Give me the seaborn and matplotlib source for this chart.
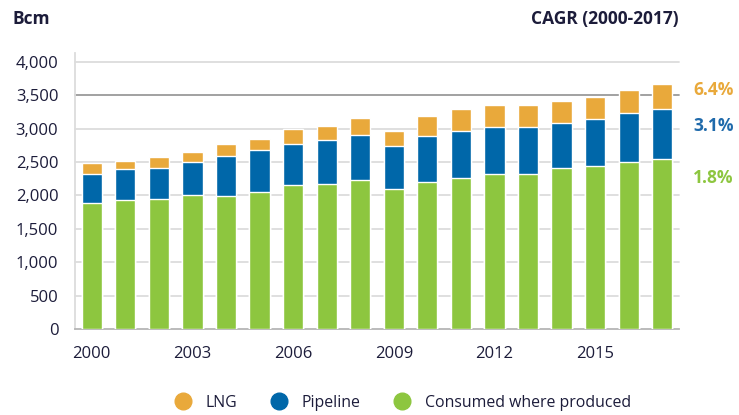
import matplotlib
matplotlib.use("Agg")
import matplotlib.pyplot as plt
from matplotlib.lines import Line2D
import numpy as np
import pandas as pd
import seaborn as sns

# ---------- data (Bcm) ----------
years = [str(y) for y in range(2000, 2018)]
consumed = [1880, 1935, 1945, 2000, 1995, 2055, 2150, 2175, 2230,
            2090, 2205, 2265, 2320, 2320, 2415, 2445, 2495, 2550]
pipeline = [440, 455, 465, 495, 590, 625, 615, 650, 675,
            655, 685, 705, 705, 710, 665, 700, 740, 745]
lng = [160, 130, 160, 160, 180, 160, 235, 215, 245,
       225, 295, 325, 325, 315, 335, 320, 345, 375]
cagr_labels = ["6.4%", "3.1%", "1.8%"]
series_names = ["LNG", "Pipeline", "Consumed where produced"]

C_LNG = "#E9A93B"
C_PIPE = "#0067A9"
C_GREEN = "#8DC63F"
TXT = "#1c1c3a"

df = pd.DataFrame({"year": years, "consumed": consumed,
                   "pipeline": pipeline, "lng": lng})
df["pipe_top"] = df["consumed"] + df["pipeline"]
df["lng_top"] = df["pipe_top"] + df["lng"]

sns.set_style("white")
plt.rcParams["font.family"] = ["Open Sans", "DejaVu Sans"]

fig = plt.figure(figsize=(7.39, 4.15), dpi=100)
ax = fig.add_axes([75 / 739, 1 - 329 / 415, (679 - 75) / 739, (329 - 53) / 415])

# stacked bars drawn as layered cumulative totals
for col, color in [("lng_top", C_LNG), ("pipe_top", C_PIPE), ("consumed", C_GREEN)]:
    sns.barplot(data=df, x="year", y=col, order=years, color=color,
                width=0.6, saturation=1, ax=ax, zorder=3)

ax.set_xlim(-0.5, len(years) - 0.5)
ax.set_ylim(0, 4130)
ax.set_xlabel("")
ax.set_ylabel("")

# grid
yt = np.arange(0, 4001, 500)
ax.set_yticks(yt)
ax.set_yticklabels([f"{v:,}" for v in yt])
for v in yt[1:]:
    ax.axhline(v, color="#9a9a9a" if v == 3500 else "#dcdcdc",
               lw=1.3, zorder=1, clip_on=False)

for s in ["top", "right"]:
    ax.spines[s].set_visible(False)
ax.spines["left"].set_color("#dcdcdc")
ax.spines["left"].set_linewidth(1.3)
ax.spines["bottom"].set_color("#b5b5b5")
ax.spines["bottom"].set_linewidth(1.3)

ax.tick_params(axis="y", length=4, color="#dcdcdc", width=1.3, pad=8,
               labelsize=12, labelcolor=TXT)
major = list(range(0, len(years), 3))
ax.set_xticks(major)
ax.set_xticklabels([years[i] for i in major])
ax.set_xticks(np.arange(-0.5, len(years), 1), minor=True)
ax.tick_params(axis="x", which="major", length=0, pad=12,
               labelsize=12, labelcolor=TXT)
ax.tick_params(axis="x", which="minor", length=5, color="#b5b5b5", width=1.3)

# titles / annotations
fig.text(12 / 739, 1 - 19 / 415, "Bcm", fontsize=12.5, fontweight="bold",
         color=TXT, va="center", ha="left")
fig.text(679 / 739, 1 - 19 / 415, "CAGR (2000-2017)", fontsize=12.5,
         fontweight="bold", color=TXT, va="center", ha="right")
for lab, yy, c in zip(cagr_labels, [90, 126, 178], [C_LNG, "#1f6aab", C_GREEN]):
    fig.text(693 / 739, 1 - yy / 415, lab, fontsize=12.5, fontweight="bold",
             color=c, va="center", ha="left")

# legend
handles = [Line2D([], [], marker="o", linestyle="", markersize=12,
                  markerfacecolor=c, markeredgecolor=c)
           for c in [C_LNG, C_PIPE, C_GREEN]]
fig.legend(handles, series_names, loc="center", ncol=3,
           bbox_to_anchor=(399 / 739, 1 - 403 / 415), frameon=False,
           fontsize=11.4, handletextpad=0.45, columnspacing=1.6,
           labelcolor=TXT)

fig.savefig("out.png", dpi=100)
